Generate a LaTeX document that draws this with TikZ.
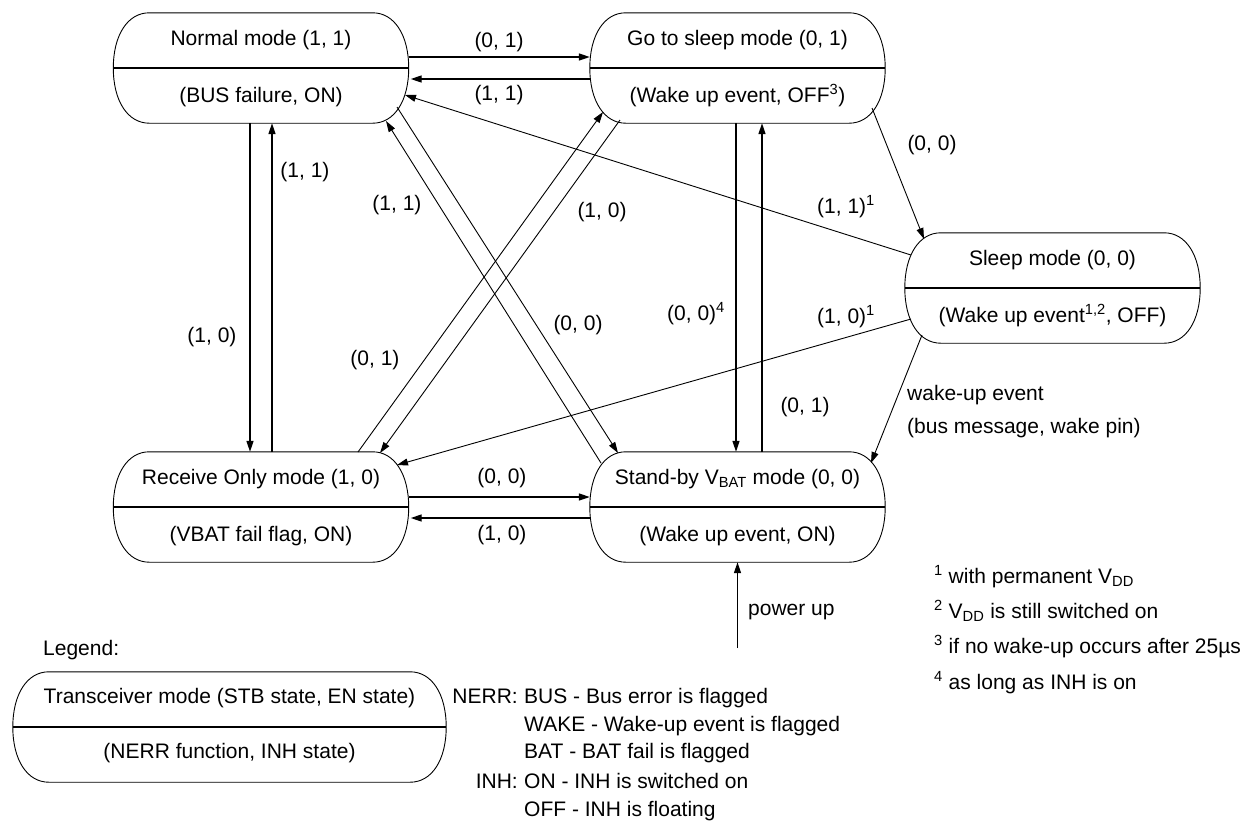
\documentclass[tikz,border=0pt]{standalone}
\usepackage{fontspec}
\setmainfont{Liberation Sans}
\usetikzlibrary{arrows.meta,calc}
\newcommand\drawstbox[1]{%
  \draw[outl] ([xshift=36pt]#1.north west) -- ([xshift=-36pt]#1.north east)
    .. controls +(21.6pt,0pt) and +(0pt,33pt) .. (#1.east)
    .. controls +(0pt,-33pt) and +(21.6pt,0pt) .. ([xshift=-36pt]#1.south east)
    -- ([xshift=36pt]#1.south west)
    .. controls +(-21.6pt,0pt) and +(0pt,-33pt) .. (#1.west)
    .. controls +(0pt,33pt) and +(-21.6pt,0pt) .. cycle;
  \draw[divl] (#1.west) -- (#1.east);}
\begin{document}
\begin{tikzpicture}[x=1pt,y=-1pt,
  font=\fontsize{21pt}{25pt}\selectfont,
  stbox/.style={rectangle,draw=none,minimum width=295pt,minimum height=110pt,inner sep=0pt},
  lgbox/.style={rectangle,draw=none,minimum width=433pt,minimum height=110pt,inner sep=0pt},
  txt/.style={anchor=base,inner sep=0pt},
  lbl/.style={anchor=base,inner sep=0pt},
  lblw/.style={anchor=base west,inner sep=0pt},
  lble/.style={anchor=base east,inner sep=0pt},
  outl/.style={line width=0.9pt},
  divl/.style={line width=1.4pt},
  sarr/.style={line width=1.4pt,-{Triangle[length=11pt,width=7pt]}},
  darr/.style={line width=0.9pt,-{Triangle[length=11pt,width=7pt]}},
]
\useasboundingbox (0,0) rectangle (1255,823);

% state boxes
\node[stbox] (normal) at (261,68) {};
\node[stbox] (gts) at (737.5,68) {};
\node[stbox] (sleep) at (1052.5,288) {};
\node[stbox] (recv) at (261,507) {};
\node[stbox] (stby) at (737.5,507) {};
\drawstbox{normal}
\drawstbox{gts}
\drawstbox{sleep}
\drawstbox{recv}
\drawstbox{stby}

\node[txt] (normal-a) at ([yshift=22.5pt]normal.center) {Normal mode (1, 1)};
\node[txt] (normal-b) at ([yshift=-34.5pt]normal.center) {(BUS failure, ON)};
\node[txt] (gts-a) at ([yshift=22.5pt]gts.center) {Go to sleep mode (0, 1)};
\node[txt] (gts-b) at ([yshift=-34.5pt]gts.center) {(Wake up event, OFF\textsuperscript{3})};
\node[txt] (sleep-a) at ([yshift=22.5pt]sleep.center) {Sleep mode (0, 0)};
\node[txt] (sleep-b) at ([yshift=-34.5pt]sleep.center) {(Wake up event\textsuperscript{1,2}, OFF)};
\node[txt] (recv-a) at ([yshift=22.5pt]recv.center) {Receive Only mode (1, 0)};
\node[txt] (recv-b) at ([yshift=-34.5pt]recv.center) {(VBAT fail flag, ON)};
\node[txt] (stby-a) at ([yshift=22.5pt]stby.center) {Stand-by V\textsubscript{BAT} mode (0, 0)};
\node[txt] (stby-b) at ([yshift=-34.5pt]stby.center) {(Wake up event, ON)};

% straight connectors
\draw[sarr] ([yshift=11pt]normal.east) -- ([yshift=11pt]gts.west);
\draw[sarr] ([yshift=-11pt]gts.west) -- ([yshift=-11pt,xshift=2pt]normal.east);
\draw[sarr] ([xshift=-11pt]normal.south) -- ([xshift=-11pt]recv.north);
\draw[sarr] ([xshift=11pt]recv.north) -- ([xshift=11pt]normal.south);
\draw[sarr] ([xshift=-1.5pt]gts.south) -- ([xshift=-1.5pt]stby.north);
\draw[sarr] ([xshift=24.5pt]stby.north) -- ([xshift=24.5pt]gts.south);
\draw[sarr] ([yshift=10pt]recv.east) -- ([yshift=10pt]stby.west);
\draw[sarr] ([yshift=-11pt]stby.west) -- ([yshift=-11pt,xshift=2pt]recv.east);

% diagonal connectors
\draw[darr] ([shift={(134.5pt,-40pt)}]gts.center) -- ([shift={(-128.5pt,49pt)}]sleep.center);
\draw[darr] ([shift={(-141.5pt,33pt)}]sleep.center) -- ([shift={(144pt,-27pt)}]normal.center);
\draw[darr] ([shift={(-141.5pt,-31pt)}]sleep.center) -- ([shift={(136pt,42pt)}]recv.center);
\draw[darr] ([shift={(-130.5pt,-47pt)}]sleep.center) -- ([shift={(133.5pt,44pt)}]stby.center);
\draw[darr] ([shift={(-136.5pt,44pt)}]stby.center) -- ([shift={(125pt,-53pt)}]normal.center);
\draw[darr] ([shift={(136pt,-39pt)}]normal.center) -- ([shift={(-119.5pt,54pt)}]stby.center);
\draw[darr] ([shift={(97pt,55pt)}]recv.center) -- ([shift={(-134.5pt,-44pt)}]gts.center);
\draw[darr] ([shift={(-117.5pt,-52pt)}]gts.center) -- ([shift={(119pt,54pt)}]recv.center);

% power up
\coordinate (pwr) at (737.5,648);
\draw[sarr] (pwr) -- (stby.south);
\node[lblw] (pwr-l) at (748,615) {power up};

% connector labels
\node[lbl] (l01t) at (499,47.5) {(0, 1)};
\node[lbl] (l11t) at (499,100.5) {(1, 1)};
\node[lbl] (l00b) at (502,483.5) {(0, 0)};
\node[lbl] (l10b) at (502,540.5) {(1, 0)};
\node[lbl] (l10l) at (212,342.5) {(1, 0)};
\node[lbl] (l11l) at (305,177.5) {(1, 1)};
\node[lblw] (l004) at (667,320.5) {(0, 0)\textsuperscript{4}};
\node[lbl] (l01r) at (805,412.5) {(0, 1)};
\node[lbl] (l11d) at (397,210.5) {(1, 1)};
\node[lbl] (l10d) at (602,217.5) {(1, 0)};
\node[lbl] (l00d) at (578,330.5) {(0, 0)};
\node[lbl] (l01d) at (375,365.5) {(0, 1)};
\node[lbl] (l00s) at (932,150.5) {(0, 0)};
\node[lblw] (l111) at (817,213.5) {(1, 1)\textsuperscript{1}};
\node[lblw] (l101) at (817,323.5) {(1, 0)\textsuperscript{1}};
\node[lblw] (lwk1) at (907,400.5) {wake-up event};
\node[lblw] (lwk2) at (907,433.5) {(bus message, wake pin)};

% footnotes
\node[lblw] (fn1) at (934,583.5) {\textsuperscript{1} with permanent V\textsubscript{DD}};
\node[lblw] (fn2) at (934,618.5) {\textsuperscript{2} V\textsubscript{DD} is still switched on};
\node[lblw] (fn3) at (934,653.5) {\textsuperscript{3} if no wake-up occurs after 25µs};
\node[lblw] (fn4) at (934,689.5) {\textsuperscript{4} as long as INH is on};

% legend
\node[lblw] (leg) at (43,655.5) {Legend:};
\node[lgbox] (legbox) at (229.5,727) {};
\drawstbox{legbox}
\node[txt] (leg-a) at ([yshift=23.5pt]legbox.center) {Transceiver mode (STB state, EN state)};
\node[txt] (leg-b) at ([yshift=-31.5pt]legbox.center) {(NERR function, INH state)};

\node[lble] (nerr) at (518,703.5) {NERR:};
\node[lblw] (n1) at (524,703.5) {BUS - Bus error is flagged};
\node[lblw] (n2) at (524,731.5) {WAKE - Wake-up event is flagged};
\node[lblw] (n3) at (524,758.5) {BAT - BAT fail is flagged};
\node[lble] (inh) at (518,788.5) {INH:};
\node[lblw] (i1) at (524,788.5) {ON - INH is switched on};
\node[lblw] (i2) at (524,816.5) {OFF - INH is floating};
\end{tikzpicture}
\end{document}
